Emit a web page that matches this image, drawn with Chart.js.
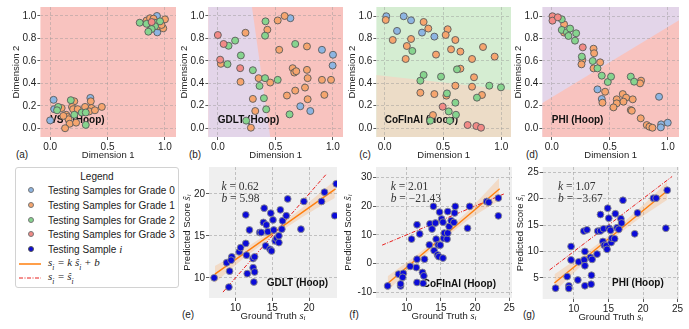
<!DOCTYPE html>
<html lang="en">
<head>
<meta charset="UTF-8" />
<title>Hoop panels</title>
<script src="https://cdn.jsdelivr.net/npm/chart.js"></script>
<style>
  body { margin: 0; width: 689px; height: 329px; position: relative; overflow: hidden; background: #fff;
         font-family: "Liberation Sans", Arial, sans-serif; color: #222; }
  canvas { position: absolute; }
  .plabel { position: absolute; font-size: 10px; transform: translate(-50%, -50%); white-space: nowrap; }
  #legend { position: absolute; left: 15px; top: 167px; width: 162px; height: 119px; border: 1px solid #d2d2d2;
            border-radius: 3px; background: #fff; font-size: 10px; }
  #legend .row { position: absolute; left: 32px; transform: translateY(-50%); white-space: nowrap; }
  #legend .dot { position: absolute; left: 11.5px; width: 4px; height: 4px; border-radius: 50%; border: 0.8px solid #777;
                 transform: translateY(-50%); }
  .m { font-family: "Liberation Serif", serif; font-style: italic; font-size: 11px; }
  .m sub { font-size: 7.5px; }
</style>
</head>
<body>
<div id="legend">
  <div class="row" style="left:0;width:100%;text-align:center;top:8px">Legend</div>
  <div class="dot" style="top:22px;background:#8db5e2"></div><div class="row" style="top:22px">Testing Samples for Grade 0</div>
  <div class="dot" style="top:37px;background:#f6a56e"></div><div class="row" style="top:37px">Testing Samples for Grade 1</div>
  <div class="dot" style="top:52px;background:#86d48e"></div><div class="row" style="top:52px">Testing Samples for Grade 2</div>
  <div class="dot" style="top:66px;background:#f28a86"></div><div class="row" style="top:66px">Testing Samples for Grade 3</div>
  <div class="dot" style="top:81px;background:#0b0bd8;border-color:#555"></div><div class="row" style="top:81px">Testing Sample <span class="m">i</span></div>
  <svg style="position:absolute;left:3px;top:92px" width="23" height="8"><line x1="0" y1="4" x2="22" y2="4" stroke="#ff7f0e" stroke-width="1.5"/></svg>
  <div class="row" style="top:96px"><span class="m">s<sub>i</sub> = k ŝ<sub>i</sub> + b</span></div>
  <svg style="position:absolute;left:3px;top:106px" width="23" height="8"><line x1="0" y1="4" x2="22" y2="4" stroke="#e8201e" stroke-width="1" stroke-dasharray="4,1.5,1,1.5"/></svg>
  <div class="row" style="top:110px"><span class="m">s<sub>i</sub> = ŝ<sub>i</sub></span></div>
</div>
<div class="plabel" style="left:22px;top:154px">(a)</div>
<div class="plabel" style="left:195px;top:154px">(b)</div>
<div class="plabel" style="left:365px;top:154px">(c)</div>
<div class="plabel" style="left:532px;top:154px">(d)</div>
<div class="plabel" style="left:188px;top:314px">(e)</div>
<div class="plabel" style="left:354px;top:314px">(f)</div>
<div class="plabel" style="left:529px;top:314px">(g)</div>
<script>
// ---- top row: 2-D embeddings, grade per sample ----
const vstX = [0.78,0.84,0.87,0.93,0.90,0.884,0.84,0.91,0.957,0.875,0.913,1.0,0.94,0.985,0.884,0.855,0.933,0.97,
  0.03,0.035,0.07,0.06,0.10,0.18,0.21,0.19,0.2,0.24,0.14,0.15,0.21,0.275,0.304,0.35,0.354,0.36,0.34,0.39,0.45,0.31,
  0.0,0.16,0.17,0.226,0.13,0.31,0.115];
const vstY = [0.94,0.96,0.98,1.0,0.976,0.946,0.93,0.94,0.952,0.914,0.908,0.97,0.908,0.89,0.884,0.86,0.854,0.92,
  0.253,0.17,0.19,0.16,0.18,0.25,0.24,0.19,0.17,0.17,0.12,0.10,0.12,0.14,0.19,0.27,0.24,0.18,0.15,0.16,0.19,0.14,
  0.07,0.08,0.04,0.05,0.0,0.03,0.11];
const vstG = [2,1,1,0,1,3,2,2,2,1,2,1,1,1,2,2,0,1,
  0,0,2,2,1,2,1,1,1,1,1,1,2,2,1,0,1,1,1,1,1,2,
  0,1,1,1,1,2,1];

const gdltX = [0.0,0.05,0.093,0.15,0.24,0.02,0.026,0.084,0.2,0.194,0.304,0.197,0.354,0.41,0.455,0.52,0.362,0.40,0.304,0.325,
  0.42,0.246,0.287,0.414,0.43,0.41,0.52,0.58,0.63,0.533,0.672,0.774,0.904,1.0,0.997,0.65,0.664,0.681,0.774,0.78,
  0.904,0.983,0.757,0.672,0.6,0.78,0.925,0.716,0.803,0.623];
const gdltY = [0.83,0.75,0.734,0.78,0.85,0.61,0.573,0.57,0.648,0.534,0.516,0.412,0.445,0.445,0.406,0.43,0.376,0.266,0.26,0.152,
  0.167,0.066,0.003,0.952,0.877,0.824,0.96,1.0,0.98,0.698,0.75,0.728,0.698,0.654,0.558,0.534,0.495,0.507,0.519,0.445,
  0.43,0.43,0.361,0.334,0.29,0.257,0.296,0.194,0.152,0.122];
const gdltG = [3,3,2,2,1,3,1,2,2,3,2,1,1,2,1,2,2,2,1,1,2,2,1,2,1,2,1,1,0,1,2,1,0,0,0,1,1,1,1,1,1,1,1,1,1,1,1,0,0,2];

const cofX = [0.014,0.009,0.163,0.226,0.334,0.374,0.32,0.426,0.106,0.069,0.226,0.19,0.237,0.18,0.44,0.54,0.523,0.606,0.569,0.649,
  0.843,0.943,0.749,0.62,0.649,0.334,0.306,0.483,0.766,0.606,0.749,0.897,0.997,0.306,0.426,0.534,0.529,0.834,0.791,0.497,
  0.549,0.606,0.611,0.414,0.391,0.557,0.711,0.786,0.826];
const cofY = [1.0,0.967,1.0,0.964,0.949,0.89,0.854,0.818,0.869,0.788,0.797,0.734,0.69,0.618,0.657,0.884,0.833,0.788,0.704,0.684,
  0.725,0.639,0.618,0.525,0.531,0.475,0.424,0.46,0.454,0.379,0.37,0.379,0.364,0.316,0.304,0.31,0.29,0.296,0.272,0.191,
  0.149,0.227,0.119,0.116,0.066,0.066,0.027,0.018,0.003];
const cofG = [0,1,0,0,1,1,0,0,0,1,1,1,2,1,1,1,1,1,1,1,1,1,1,2,1,2,2,2,1,1,1,2,2,1,1,2,1,1,2,3,2,2,2,1,2,2,3,3,3];

const phiX = [0.006,0.006,0.052,0.086,0.106,0.086,0.106,0.13,0.158,0.144,0.21,0.2,0.267,0.259,0.264,0.256,0.36,0.365,0.353,0.394,
  0.36,0.417,0.431,0.483,0.511,0.394,0.46,0.431,0.437,0.612,0.641,0.618,0.56,0.56,0.532,0.698,0.681,0.69,0.681,0.71,
  0.77,0.761,0.767,0.819,0.842,0.868,0.925,0.943,0.94,1.0];
const phiY = [1.0,0.961,0.991,0.973,0.928,0.878,0.854,0.857,0.89,0.824,0.848,0.782,0.722,0.639,0.609,0.57,0.71,0.669,0.6,0.534,
  0.534,0.588,0.469,0.412,0.46,0.346,0.325,0.26,0.227,0.304,0.272,0.236,0.257,0.221,0.185,0.257,0.161,0.155,0.46,0.415,
  0.424,0.4,0.087,0.027,0.012,0.003,0.28,0.033,0.006,0.048];
const phiG = [3,3,3,2,1,2,1,2,2,2,2,2,3,2,1,1,1,1,2,2,1,1,2,2,2,0,1,0,1,1,1,1,1,1,1,1,1,1,2,2,1,1,1,1,1,1,0,0,0,0];

// decision regions (polygons in data units)
const gdltPurple = [[-0.2,1.2],[0.28,1.2],[0.471,-0.2],[-0.2,-0.2]];
const cofTan = [[-0.2,0.49],[1.2,0.326],[1.2,-0.2],[-0.2,-0.2]];
const phiPink = [[-0.2,0.15],[1.2,1.028],[1.2,-0.2],[-0.2,-0.2]];

const dimXTicks = [0, 0.5, 1.0];
const dimYTicks = [0, 0.2, 0.4, 0.6, 0.8, 1.0];

// ---- bottom row: ground truth vs predicted ----
const gtE = [7.1,8.8,9.5,9.4,9.2,9.1,10.5,10.7,11.4,11.4,11.9,11.5,11.6,12.4,12.4,12.6,12.6,12.5,13.3,13.5,13.9,13.8,14.2,
  14.1,14.4,14.8,14.7,14.9,15.1,15.2,15.4,15.6,15.9,15.9,16.1,16.3,16.4,16.9,17.1,18.9,19.3,21.7,22.1,23.5,23.7];
const predE = [10.0,11.8,12.5,12.1,10.8,8.9,13.1,13.6,14.1,17.5,15.7,12.7,10.5,11.2,12.3,12.5,10.7,9.5,15.4,15.4,18.3,16.6,16.3,
  13.8,15.5,17.7,13.4,13.2,16.9,15.7,14.4,14.7,15.0,14.2,18.1,15.8,16.8,17.4,19.4,15.8,19.1,19.1,20.2,17.4,21.2];
const gtF = [7.2,8.8,9.5,9.4,9.1,9.1,10.7,11.4,11.5,10.5,11.5,11.9,11.5,12.6,12.3,12.5,12.4,13.3,13.4,13.7,13.9,14.2,14.0,14.3,
  14.6,14.5,14.8,14.7,14.9,15.3,15.1,15.3,15.4,15.5,15.9,16.0,16.0,16.2,16.5,16.9,17.0,17.1,18.9,19.2,21.7,22.0,23.4,23.4];
const predF = [-7.8,-3.7,-3.4,-4.8,-7.8,-7.1,8.5,-1.4,1.5,-1.0,13.5,10.3,-6.6,1.5,-3.1,-4.3,-6.9,6.5,13.8,12.0,19.9,14.1,4.5,8.5,
  6.5,3.0,17.9,2.4,6.4,1.9,15.5,14.4,8.8,10.6,8.5,10.6,18.1,12.9,14.9,14.3,17.6,19.9,12.3,19.9,21.6,21.3,16.6,22.8];
const gtG = [7.36,9.04,9.28,9.28,9.6,9.6,10.58,10.7,11.44,11.9,11.5,11.6,11.6,11.6,12.4,12.64,12.55,12.5,13.36,13.46,13.85,13.85,
  14.2,14.3,14.4,14.7,14.9,14.8,15.05,15.1,15.3,15.4,15.5,15.9,16.0,16.25,16.5,16.8,16.9,17.1,18.8,19.2,21.5,21.9,23.3,23.5];
const predG = [3.04,5.25,3.5,3.0,10.95,8.4,4.6,8.04,13.86,14.1,8.4,10.0,7.3,3.5,8.9,8.5,5.5,3.8,9.5,13.86,17.0,13.9,
  11.9,14.3,11.2,11.1,18.2,10.4,16.3,14.4,14.0,11.7,12.5,12.4,17.15,14.5,14.2,16.2,15.4,19.7,13.35,17.3,20.1,20.1,14.4,21.6];

// fitted line, its confidence band and the identity line
const fitX = [7.2, 23.6];
const fitE = [10.44, 20.6], fitF = [-6.96, 26.0], fitG = [4.03, 21.6];
const bandX = [7.2, 9, 11, 15, 19, 21, 23.5];
const bandLoE = [9.4, 10.8, 12.25, 14.9, 17.2, 18.25, 19.5], bandHiE = [11.4, 12.3, 13.35, 15.6, 18.3, 19.75, 21.6];
const bandLoF = [-9.6, -5.3, -0.7, 7.8, 15.2, 18.3, 21.9], bandHiF = [-4.4, -1.3, 2.1, 9.6, 18.4, 23.3, 29.7];
const bandLoG = [2.3, 4.7, 7.2, 11.8, 15.8, 17.6, 19.8], bandHiG = [5.7, 7.3, 9.0, 13.0, 17.6, 20.0, 23.2];
const identE = [8.3, 22.4], identF = [6.4, 24.3], identG = [6.5, 24.2];

const ticksE = [10, 15, 20];
const ticksXFG = [10, 15, 20, 25];
const ticksYF = [-10, 0, 10, 20, 30];
const ticksYG = [5, 10, 15, 20, 25];

const gradeColors = ['#8db5e2', '#f6a56e', '#86d48e', '#f28a86'];
const SANS = '"Liberation Sans", Arial, sans-serif';
const SERIF = '"Liberation Serif", "Times New Roman", serif';

function drawRuns(ctx, runs, x, y, center) {
  let w = 0;
  runs.forEach(r => { ctx.font = r.f; w += ctx.measureText(r.t).width; });
  let cx = center ? x - w / 2 : x;
  runs.forEach(r => {
    ctx.font = r.f;
    ctx.fillText(r.t, cx, y + (r.dy || 0));
    cx += ctx.measureText(r.t).width;
  });
}

const deco = {
  id: 'deco',
  beforeDraw(chart, args, o) {
    const { ctx, chartArea: a, scales: { x, y } } = chart;
    ctx.save();
    ctx.fillStyle = o.bg;
    ctx.fillRect(a.left, a.top, a.width, a.height);
    ctx.beginPath(); ctx.rect(a.left, a.top, a.width, a.height); ctx.clip();
    (o.regions || []).forEach(r => {
      ctx.fillStyle = r.color;
      ctx.beginPath();
      r.pts.forEach((p, i) => {
        const px = x.getPixelForValue(p[0]), py = y.getPixelForValue(p[1]);
        if (i) ctx.lineTo(px, py); else ctx.moveTo(px, py);
      });
      ctx.closePath(); ctx.fill();
    });
    ctx.restore();
  },
  beforeDatasetsDraw(chart, args, o) {
    const { ctx, chartArea: a, scales: { x, y } } = chart;
    ctx.save();
    ctx.fillStyle = '#111';
    ctx.font = 'bold 10px ' + SANS;
    ctx.textBaseline = 'middle';
    if (o.nameAt) ctx.fillText(o.name, x.getPixelForValue(o.nameAt[0]), y.getPixelForValue(o.nameAt[1]));
    if (o.nameOff) ctx.fillText(o.name, a.left + o.nameOff[0], a.top + o.nameOff[1]);
    if (o.kb) {
      ctx.fillStyle = '#333';
      drawRuns(ctx, [{ t: 'k', f: 'italic 11.5px ' + SERIF }, { t: ' = ' + o.kb[0], f: '11.5px ' + SERIF }], a.left + o.kbX, a.top + 19.5);
      drawRuns(ctx, [{ t: 'b', f: 'italic 11.5px ' + SERIF }, { t: ' = ' + o.kb[1], f: '11.5px ' + SERIF }], a.left + o.kbX, a.top + 32);
    }
    ctx.restore();
  },
  afterDraw(chart, args, o) {
    if (!o.math) return;
    const { ctx, chartArea: a } = chart;
    ctx.save();
    ctx.fillStyle = '#222';
    ctx.textBaseline = 'middle';
    drawRuns(ctx, [{ t: 'Ground Truth ', f: '9.5px ' + SANS }, { t: 's', f: 'italic 10.5px ' + SERIF },
      { t: 'i', f: 'italic 7px ' + SERIF, dy: 2 }], (a.left + a.right) / 2, a.bottom + 18.4, true);
    ctx.translate(a.left - o.ygap, (a.top + a.bottom) / 2);
    ctx.rotate(-Math.PI / 2);
    drawRuns(ctx, [{ t: 'Predicted Score ', f: '9.5px ' + SANS }, { t: 'ŝ', f: 'italic 10.5px ' + SERIF },
      { t: 'i', f: 'italic 7px ' + SERIF, dy: 2 }], 0, 0, true);
    ctx.restore();
  }
};

function axis(range, ticks, fmt, title, size, isX, gridColor) {
  return {
    type: 'linear', min: range[0], max: range[1],
    afterBuildTicks: s => { s.ticks = ticks.map(v => ({ value: v })); },
    afterFit: s => { if (isX) s.height = size; else s.width = size; },
    ticks: { color: '#222', padding: 1, font: { size: 10, family: SANS }, callback: fmt },
    grid: { color: gridColor, tickColor: '#333', tickLength: 3, lineWidth: 0.8 },
    border: { display: false, dash: [3, 2] },
    title: title ? { display: true, text: title, color: '#222', font: { size: 9.5, family: SANS }, padding: { top: 2, bottom: 2 } }
                 : { display: false }
  };
}

function panel(p) {
  const [L, T, R, B] = p.area;
  const pad = 8;
  const left = L - p.yw, top = T - pad;
  const c = document.createElement('canvas');
  c.width = Math.round(R - left + pad);
  c.height = Math.round(B - top + p.xh);
  c.style.left = left + 'px';
  c.style.top = top + 'px';
  document.body.appendChild(c);
  new Chart(c, {
    type: 'scatter',
    data: { datasets: p.datasets },
    options: {
      responsive: false, animation: false, devicePixelRatio: 1,
      layout: { padding: { top: pad, right: pad, left: 0, bottom: 0 } },
      plugins: { legend: { display: false }, tooltip: { enabled: false }, deco: p.deco },
      scales: {
        x: axis(p.xr, p.xt, p.xf, p.xtitle, p.xh, true, p.grid),
        y: axis(p.yr, p.yt, p.yf, p.ytitle, p.yw, false, p.grid)
      }
    },
    plugins: [deco]
  });
}

function gradeSets(xs, ys, gs) {
  return [3, 2, 1, 0].map(g => ({
    data: xs.map((v, i) => ({ x: v, y: ys[i], g: gs[i] })).filter(d => d.g === g),
    backgroundColor: gradeColors[g], borderColor: '#5a5a5a', borderWidth: 0.9, pointRadius: 3.5
  }));
}

function regSets(gt, pred, fitY, lo, hi, ident) {
  const pts = (xs, ys) => xs.map((v, i) => ({ x: v, y: ys[i] }));
  return [
    { data: pts(bandX, lo), showLine: true, pointRadius: 0, borderWidth: 0, fill: false, order: 5 },
    { data: pts(bandX, hi), showLine: true, pointRadius: 0, borderWidth: 0, fill: '-1', backgroundColor: 'rgba(255,140,40,0.2)', order: 4 },
    { data: pts(fitX, fitY), showLine: true, pointRadius: 0, borderColor: '#ff7f0e', borderWidth: 1.4, order: 2 },
    { data: pts(ident, ident), showLine: true, pointRadius: 0, borderColor: '#e8201e', borderWidth: 1, borderDash: [4, 1.5, 1, 1.5], order: 1 },
    { data: pts(gt, pred), pointRadius: 3.4, backgroundColor: '#0b0bd8', borderColor: '#8a8a8a', borderWidth: 0.9, order: 0 }
  ];
}

const PINK = '#f8c3bf', PURPLE = '#e3d5e9', GREEN = '#d5edd2', TAN = '#ecdcc7', GRAY = '#efefef';
const topGrid = 'rgba(150,150,150,0.55)', botGrid = 'rgba(165,165,165,0.8)';
const f1 = v => v.toFixed(1), f0 = v => String(v);

const topCommon = { xh: 26, yw: 31.4, xt: dimXTicks, yt: dimYTicks, xf: f1, yf: f1, xtitle: 'Dimension 1', ytitle: 'Dimension 2', grid: topGrid };
panel(Object.assign({}, topCommon, { area: [40.7, 7, 176, 137], xr: [-0.085, 1.096], yr: [-0.078, 1.08],
  datasets: gradeSets(vstX, vstY, vstG), deco: { bg: PINK, name: 'VST (Hoop)', nameAt: [0, 0.07] } }));
panel(Object.assign({}, topCommon, { area: [208.3, 7, 342.7, 137], xr: [-0.082, 1.087], yr: [-0.08, 1.08],
  datasets: gradeSets(gdltX, gdltY, gdltG), deco: { bg: PINK, regions: [{ pts: gdltPurple, color: PURPLE }], name: 'GDLT (Hoop)', nameAt: [0, 0.07] } }));
panel(Object.assign({}, topCommon, { area: [376, 7, 510.7, 137], xr: [-0.071, 1.083], yr: [-0.08, 1.083],
  datasets: gradeSets(cofX, cofY, cofG), deco: { bg: GREEN, regions: [{ pts: cofTan, color: TAN }], name: 'CoFInAl (Hoop)', nameAt: [0, 0.07] } }));
panel(Object.assign({}, topCommon, { area: [542.3, 7, 679, 137], xr: [-0.081, 1.097], yr: [-0.08, 1.083],
  datasets: gradeSets(phiX, phiY, phiG), deco: { bg: PURPLE, regions: [{ pts: phiPink, color: PINK }], name: 'PHI (Hoop)', nameAt: [0, 0.07] } }));

panel({ area: [209.3, 167.3, 337.3, 298.3], xh: 26, yw: 29, xr: [6.4, 23.8], yr: [7.6, 23.2], xt: ticksE, yt: ticksE, xf: f0, yf: f0, grid: botGrid,
  datasets: regSets(gtE, predE, fitE, bandLoE, bandHiE, identE),
  deco: { bg: GRAY, name: 'GDLT (Hoop)', nameOff: [57.7, 116.7], kb: ['0.62', '5.98'], kbX: 12.4, math: true, ygap: 21.6 } });
panel({ area: [376, 167, 512, 298], xh: 26, yw: 35, xr: [5.5, 25.4], yr: [-12, 33.6], xt: ticksXFG, yt: ticksYF, xf: f0, yf: f0, grid: botGrid,
  datasets: regSets(gtF, predF, fitF, bandLoF, bandHiF, identF),
  deco: { bg: GRAY, name: 'CoFInAl (Hoop)', nameOff: [46.7, 117], kb: ['2.01', '\u221221.43'], kbX: 14.7, math: true, ygap: 28 } });
panel({ area: [542.3, 167.3, 678.7, 299], xh: 26, yw: 29.7, xr: [5.5, 25.2], yr: [1, 26], xt: ticksXFG, yt: ticksYG, xf: f0, yf: f0, grid: botGrid,
  datasets: regSets(gtG, predG, fitG, bandLoG, bandHiG, identG),
  deco: { bg: GRAY, name: 'PHI (Hoop)', nameOff: [69.4, 116.7], kb: ['1.07', '\u22123.67'], kbX: 15.4, math: true, ygap: 22 } });
</script>
</body>
</html>
